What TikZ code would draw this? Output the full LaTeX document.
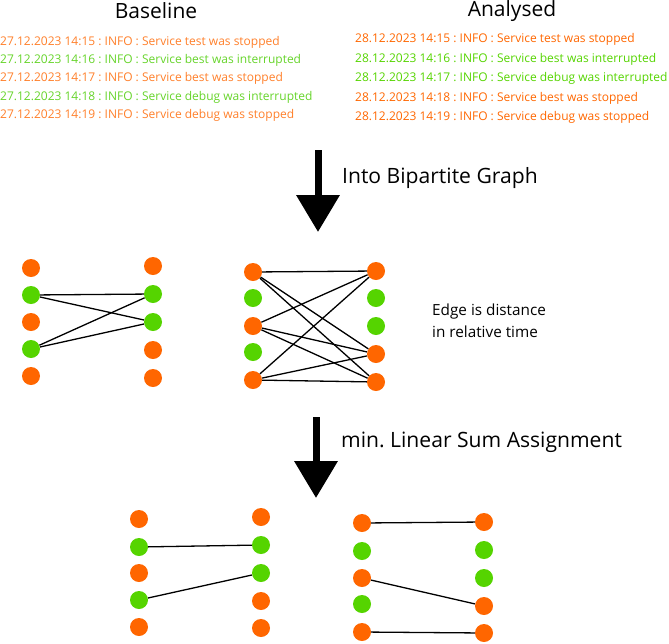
\documentclass[tikz,border=0pt]{standalone}
\usepackage{fontspec}
\setmainfont{Open Sans}
\usetikzlibrary{arrows.meta}
\frenchspacing

\definecolor{stopcol}{HTML}{FF6600}
\definecolor{intcol}{HTML}{55D400}
\definecolor{stoptext}{HTML}{FF7F2A}
\definecolor{inttext}{HTML}{66D42A}

\tikzset{
    stopdot/.style={circle, fill=stopcol, inner sep=0pt, minimum size=18pt},
    intdot/.style={circle, fill=intcol, inner sep=0pt, minimum size=18pt},
    edge/.style={line width=1.3pt, black},
    bigarrow/.style={line width=7pt, -{Triangle[width=42pt, length=37pt]}},
    title/.style={font=\fontsize{21}{24}\selectfont, anchor=base},
    logline/.style={font=\fontsize{12}{14}\selectfont, anchor=base west, inner sep=0pt},
    caption/.style={font=\fontsize{21.1}{24}\selectfont, anchor=base west, inner sep=0pt},
}

\begin{document}
\begin{tikzpicture}[x=1pt, y=-1pt]
    \useasboundingbox (0,0) rectangle (669,643);

    % log files
    \node[title] (basetitle) at (156,18) {Baseline};
    \node[title] (anatitle) at (512,16) {Analysed};
    \foreach \c/\t [count=\i] in {
        stop/{27.12.2023 14:15 : INFO : Service test was stopped},
        int/{27.12.2023 14:16 : INFO : Service best was interrupted},
        stop/{27.12.2023 14:17 : INFO : Service best was stopped},
        int/{27.12.2023 14:18 : INFO : Service debug was interrupted},
        stop/{27.12.2023 14:19 : INFO : Service debug was stopped}}
        \node[logline, text=\c text] (base\i) at (0,{45+18.4*(\i-1)}) {\t};
    \foreach \c/\t [count=\i] in {
        stop/{28.12.2023 14:15 : INFO : Service test was stopped},
        int/{28.12.2023 14:16 : INFO : Service best was interrupted},
        int/{28.12.2023 14:17 : INFO : Service debug was interrupted},
        stop/{28.12.2023 14:18 : INFO : Service best was stopped},
        stop/{28.12.2023 14:19 : INFO : Service debug was stopped}}
        \node[logline, text=\c col] (ana\i) at (355,{42.7+19.5*(\i-1)}) {\t};

    % first step
    \coordinate (arrowAtop) at (318,150);
    \coordinate (arrowAtip) at (318,232);
    \draw[bigarrow] (arrowAtop) -- (arrowAtip);
    \node[caption] (stepA) at (342,183) {Into Bipartite Graph};

    % bipartite graph, interrupted
    \foreach \c/\y [count=\i] in {stop/268,int/295,stop/322,int/349,stop/376}
        \node[\c dot] (gl\i) at (31,\y) {};
    \foreach \c/\y [count=\i] in {stop/266,int/294,int/322,stop/350,stop/378}
        \node[\c dot] (gr\i) at (153,\y) {};
    \foreach \a/\b in {2/2,2/3,4/2,4/3}
        \draw[edge] (gl\a) -- (gr\b);

    % bipartite graph, stopped
    \foreach \c/\y [count=\i] in {stop/272,int/298,stop/326,int/352,stop/380}
        \node[\c dot] (ol\i) at (253,\y) {};
    \foreach \c/\y [count=\i] in {stop/271,int/298,int/326,stop/354,stop/382}
        \node[\c dot] (or\i) at (376,\y) {};
    \foreach \a/\b in {1/1,1/4,1/5,3/1,3/4,3/5,5/1,5/4,5/5}
        \draw[edge] (ol\a) -- (or\b);

    \node[font=\fontsize{15.3}{21.5}\selectfont, align=left, anchor=north west, inner sep=0pt]
        (edgenote) at (432,304) {Edge is distance\\in relative time};

    % second step
    \coordinate (arrowBtop) at (316,417);
    \coordinate (arrowBtip) at (316,498);
    \draw[bigarrow] (arrowBtop) -- (arrowBtip);
    \node[caption] (stepB) at (341,447) {min. Linear Sum Assignment};

    % assignment, interrupted
    \foreach \c/\y [count=\i] in {stop/519,int/547,stop/573,int/600,stop/627}
        \node[\c dot] (ml\i) at (139,\y) {};
    \foreach \c/\y [count=\i] in {stop/517,int/545,int/573,stop/601,stop/628}
        \node[\c dot] (mr\i) at (261,\y) {};
    \foreach \a/\b in {2/2,4/3}
        \draw[edge] (ml\a) -- (mr\b);

    % assignment, stopped
    \foreach \c/\y [count=\i] in {stop/523,int/551,stop/578,int/604,stop/632}
        \node[\c dot] (nl\i) at (362,\y) {};
    \foreach \c/\y [count=\i] in {stop/522,int/550,int/578,stop/606,stop/633}
        \node[\c dot] (nr\i) at (484,\y) {};
    \foreach \a/\b in {1/1,3/4,5/5}
        \draw[edge] (nl\a) -- (nr\b);
\end{tikzpicture}
\end{document}
